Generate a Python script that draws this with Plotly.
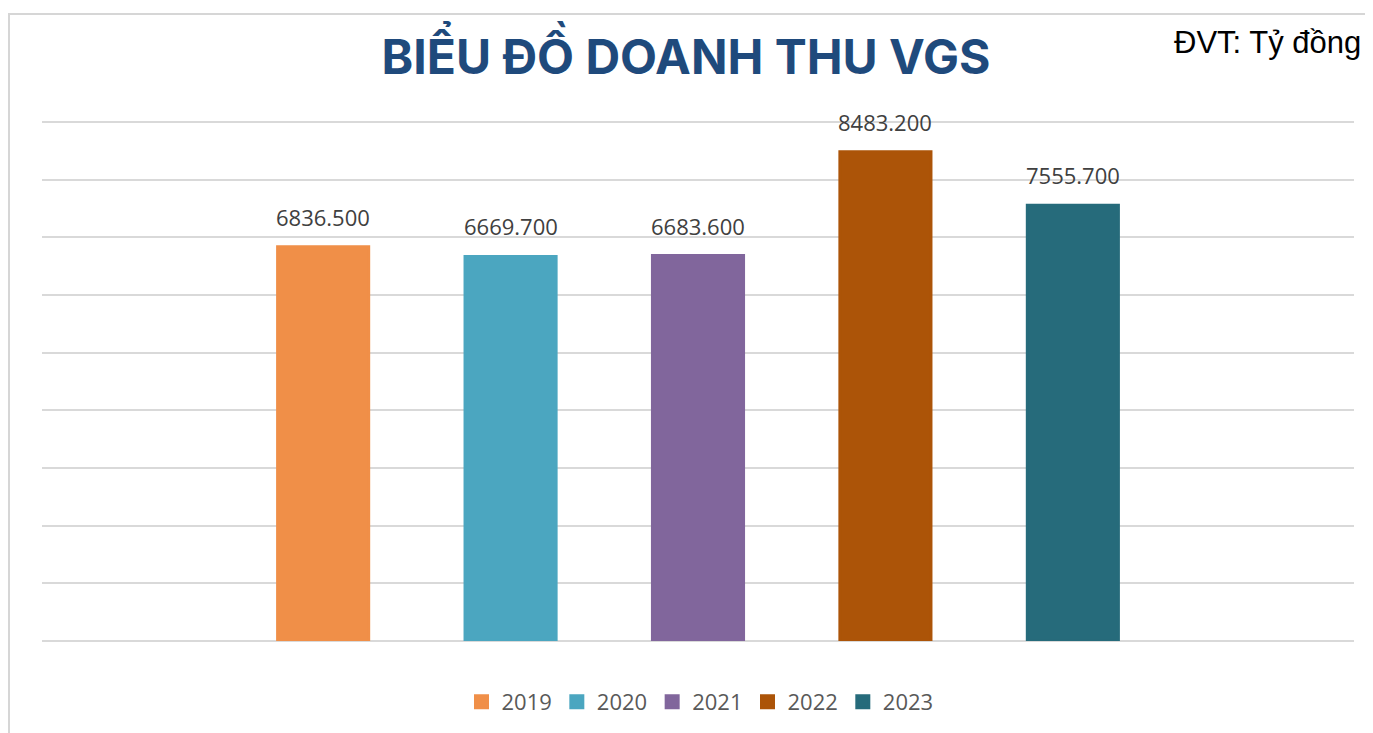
import plotly.graph_objects as go

years = ["2019", "2020", "2021", "2022", "2023"]
revenue = [6836.5, 6669.7, 6683.6, 8483.2, 7555.7]
colors = ["#F08F48", "#4BA6C0", "#81669C", "#AC5408", "#266B7B"]

W, H = 1373, 733
OFF = 8  # lề mặc định của trang html
L, T = 42 - OFF, 120 - OFF
PW, PH = 1312, 521
R, B = W - L - PW, H - T - PH
YMAX = 9000 * PH / (PH - 2)  # chừa 2px để lưới 9000 vẫn được vẽ


def px_x(x):
    return (x - OFF - L) / PW


def px_y(y):
    return (T + PH - (y - OFF)) / PH


fig = go.Figure()

for year, val, col in zip(years, revenue, colors):
    fig.add_trace(go.Bar(
        x=[year],
        y=[val],
        name=year,
        marker=dict(color=col, line=dict(width=3, color=col)),
        hoverinfo="x+y",
    ))

# nhãn giá trị trên mỗi cột
for i, val in enumerate(revenue):
    fig.add_annotation(
        x=i, y=val, text=f"{val:.3f}",
        showarrow=False, yanchor="bottom", yshift=13,
        font=dict(family="Open Sans", size=22, color="#404040"),
    )

fig.add_annotation(
    xref="paper", yref="paper", x=px_x(1363), y=px_y(43),
    xanchor="right", yanchor="middle", showarrow=False,
    text="ĐVT: Tỷ đồng",
    font=dict(family="Liberation Sans", size=31, color="#000000"),
)

# khung viền của biểu đồ
fig.add_shape(
    type="rect", xref="paper", yref="paper",
    x0=px_x(9), y0=px_y(14), x1=px_x(1400), y1=px_y(760),
    line=dict(color="#d6d6d6", width=2), layer="below",
)

fig.update_layout(
    width=W, height=H,
    margin=dict(l=L, r=R, t=T, b=B),
    paper_bgcolor="white",
    plot_bgcolor="white",
    barmode="overlay",
    bargap=0.514,
    title=dict(
        text="<b>BIỂU ĐỒ DOANH THU VGS</b>",
        x=(686 - OFF) / W, xref="container", xanchor="center",
        y=1 - (57 - OFF) / H, yref="container", yanchor="middle",
        font=dict(family="Inter", size=48, color="#1F4A7C"),
    ),
    xaxis=dict(
        type="category", range=[-1.5, 5.5],
        showticklabels=False, showgrid=False, zeroline=False,
        showline=False, ticks="",
    ),
    yaxis=dict(
        range=[0, YMAX], dtick=1000,
        showticklabels=False, ticks="",
        showgrid=True, gridcolor="#d9d9d9", gridwidth=2,
        zeroline=True, zerolinecolor="#d9d9d9", zerolinewidth=2,
        showline=False,
    ),
    legend=dict(
        orientation="h", x=px_x(700), xanchor="center",
        y=px_y(702), yanchor="middle",
        font=dict(family="Open Sans", size=22, color="#595959"),
        itemwidth=30,
    ),
    showlegend=True,
)

fig.write_html("out.html")
